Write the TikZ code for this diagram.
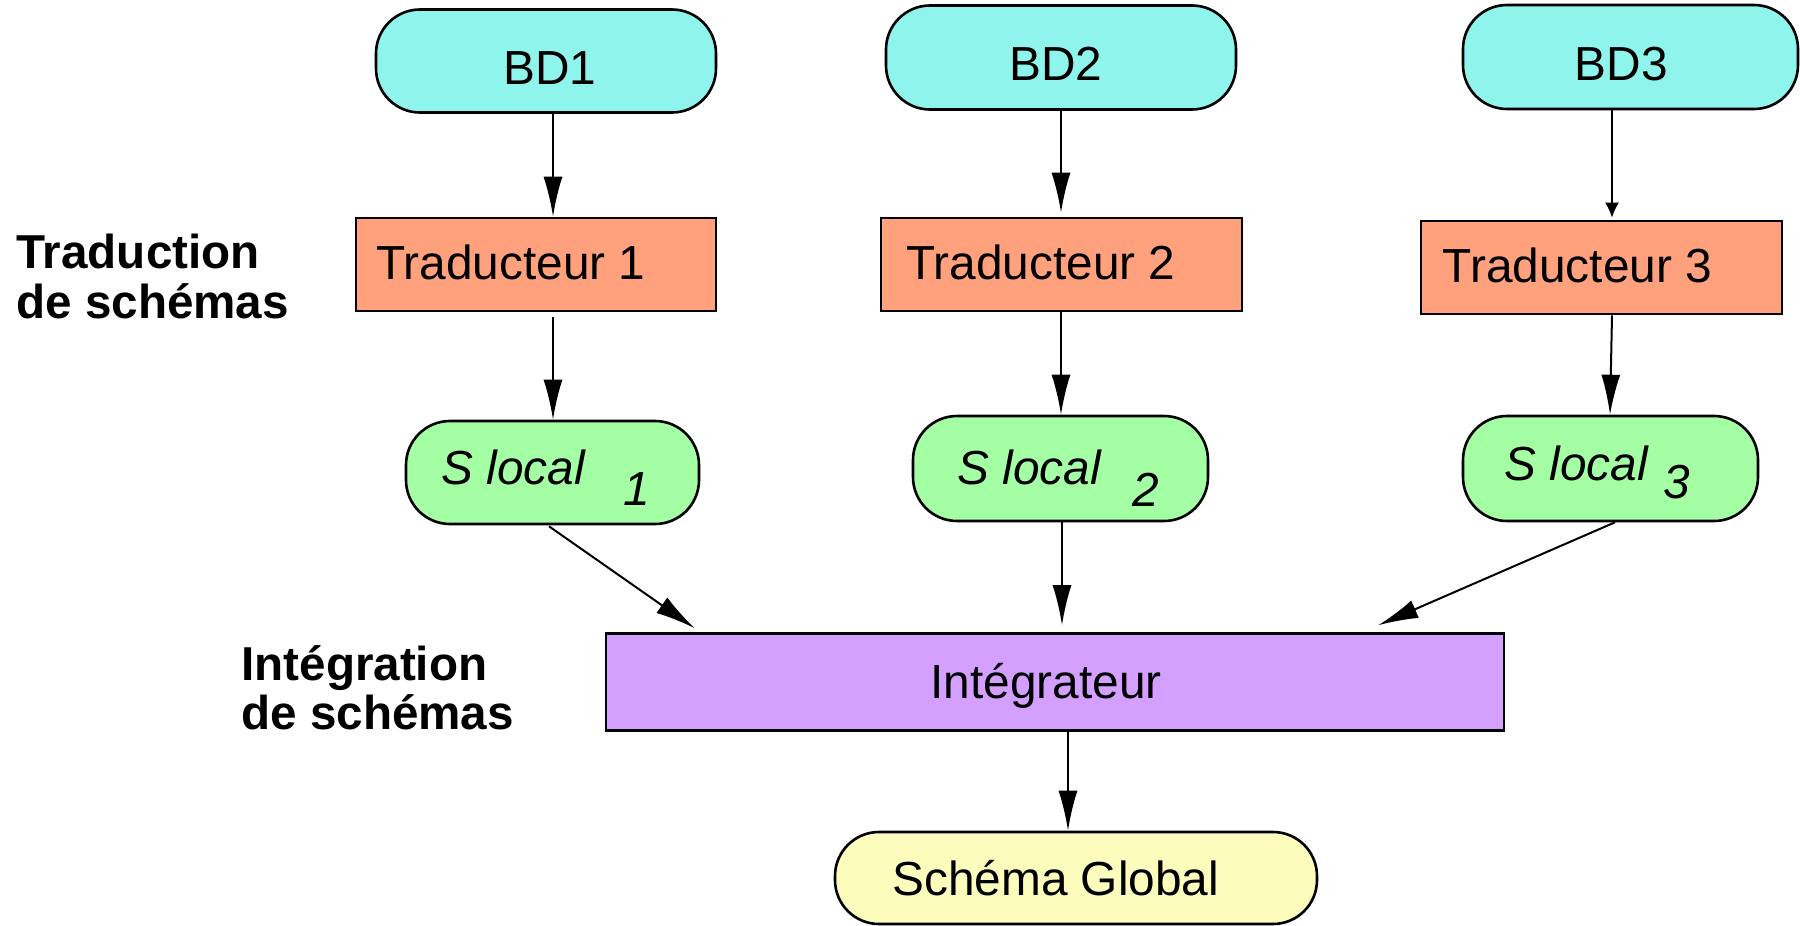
\documentclass[tikz,border=0pt]{standalone}
\usepackage{fontspec}
\setmainfont{Liberation Sans}
\usetikzlibrary{calc,arrows.meta}
\definecolor{cbd}{HTML}{8EF4EC}
\definecolor{ctrad}{HTML}{FFA17C}
\definecolor{csl}{HTML}{A4FFA4}
\definecolor{cint}{HTML}{D4A0FF}
\definecolor{csg}{HTML}{FCFCBC}
\tikzset{
  box/.style={draw=black, line width=1.3pt, inner sep=0pt},
  bdbox/.style={box, fill=cbd, rounded corners=22pt},
  tradbox/.style={box, fill=ctrad},
  slbox/.style={box, fill=csl, rounded corners=22pt},
  intbox/.style={box, fill=cint},
  sgbox/.style={box, fill=csg, rounded corners=22pt},
  txt/.style={anchor=base west, inner sep=0pt, font=\fontsize{23.9pt}{28pt}\selectfont},
  itxt/.style={txt, font=\fontsize{23.9pt}{28pt}\selectfont\itshape},
  lbl/.style={txt, font=\fontsize{23.8pt}{28pt}\selectfont\bfseries},
  arr/.style={line width=1pt, -{Latex[length=20pt,width=9.5pt]}},
  arrsmall/.style={line width=1pt, -{Latex[length=7.5pt,width=7pt]}},
}
\begin{document}
\begin{tikzpicture}[x=0.5pt,y=-0.5pt]
\useasboundingbox (0,0) rectangle (1800,926);
% boxes
\node[bdbox, minimum width=170pt, minimum height=51.5pt] (bd1) at (546,61) {};
\node[bdbox, minimum width=175pt, minimum height=52pt] (bd2) at (1061,57.5) {};
\node[bdbox, minimum width=167.5pt, minimum height=52pt] (bd3) at (1630.5,57) {};
\node[tradbox, minimum width=180pt, minimum height=46.5pt] (t1) at (536,264.5) {};
\node[tradbox, minimum width=180.5pt, minimum height=46.5pt] (t2) at (1061.5,264.5) {};
\node[tradbox, minimum width=180.5pt, minimum height=46.5pt] (t3) at (1601.5,267.5) {};
\node[slbox, minimum width=146.5pt, minimum height=51.5pt] (sl1) at (552.5,472.5) {};
\node[slbox, minimum width=147.5pt, minimum height=52.5pt] (sl2) at (1060.5,468.5) {};
\node[slbox, minimum width=147.5pt, minimum height=52.5pt] (sl3) at (1610.5,468.5) {};
\node[intbox, minimum width=449pt, minimum height=48.5pt] (int) at (1055,682) {};
\node[sgbox, minimum width=241pt, minimum height=46pt] (sg) at (1076,878) {};
% texts
\node[txt] (bd1t) at (503,84.6) {BD1};
\node[txt] (bd2t) at (1009,80) {BD2};
\node[txt] (bd3t) at (1574.5,80) {BD3};
\node[txt] (t1t) at (376,279) {Traducteur 1};
\node[txt] (t2t) at (906,279) {Traducteur 2};
\node[txt] (t3t) at (1442.5,282) {Traducteur 3};
\node[itxt] (sl1t) at (441,484) {S local};
\node[itxt] (sl1s) at (623,505) {1};
\node[itxt] (sl2t) at (957,484) {S local};
\node[itxt] (sl2s) at (1132.5,506) {2};
\node[itxt] (sl3t) at (1504,480) {S local};
\node[itxt] (sl3s) at (1663,498) {3};
\node[txt] (intt) at (930,698) {Intégrateur};
\node[txt] (sgt) at (892,895) {Schéma Global};
\node[lbl] (l1a) at (16,268.6) {Traduction};
\node[lbl] (l1b) at (16,318) {de schémas};
\node[lbl] (l2a) at (241,680) {Intégration};
\node[lbl] (l2b) at (241,729) {de schémas};
% connectors
\draw[arr] ($(bd1.south)+(7,0)$) -- ($(t1.north)+(17,0)$);
\draw[arr] ($(t1.south)+(17,5)$) -- ($(sl1.north)+(0.5,0)$);
\draw[arr] ($(bd2.south)+(0,0)$) -- ($(t2.north)+(-0.5,-4)$);
\draw[arr] ($(t2.south)+(-0.5,0)$) -- ($(sl2.north)+(0.5,0)$);
\draw[arrsmall] ($(bd3.south)+(-18.5,0)$) -- ($(t3.north)+(10.5,-2)$);
\draw[arr] ($(t3.south)+(10.5,0)$) -- ($(sl3.north)+(-0.5,0)$);
\draw[arr] ($(sl1.south)+(-3.5,1)$) -- ($(int.north west)+(90,-4)$);
\draw[arr] ($(sl2.south)+(1.5,0)$) -- ($(int.north)+(7,-7)$);
\draw[arr] ($(sl3.south)+(4.5,0)$) -- ($(int.north east)+(-127,-7)$);
\draw[arr] ($(int.south)+(13,0)$) -- ($(sg.north)+(-8,0)$);
\end{tikzpicture}
\end{document}
